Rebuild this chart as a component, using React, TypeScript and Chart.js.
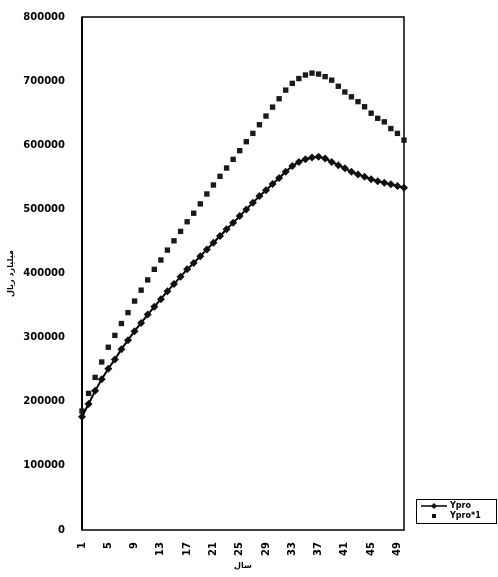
import React, { useEffect, useRef } from "react";
import { Chart, registerables } from "chart.js";

Chart.register(...registerables);

const years: string[] = Array.from({ length: 50 }, (_, i) => String(i + 1));

const ypro: number[] = [
  176700, 196500, 217000, 235000, 251500, 266000, 282000, 296000, 310000, 323000,
  336000, 348000, 360000, 372500, 383500, 395000, 406500, 416500, 427000, 437600,
  448000, 458500, 469000, 479000, 489500, 500000, 510300, 520700, 530000, 539500,
  549000, 558600, 567500, 574000, 578300, 581000, 582000, 579500, 574000, 569000,
  564000, 558600, 554500, 551000, 547000, 544000, 541500, 539000, 536300, 533600,
];

const ypro1: number[] = [
  185500, 213000, 238000, 262000, 285000, 303500, 322000, 339000, 357000, 374000,
  390000, 406500, 421000, 436500, 451000, 465700, 480700, 494000, 508600, 524000,
  538000, 551500, 564500, 578000, 591500, 605500, 618500, 632000, 645500, 659500,
  672500, 686000, 696500, 704000, 709500, 712500, 711000, 707000, 701500, 692000,
  683000, 675500, 668000, 660000, 650000, 642000, 636500, 626000, 618500, 608000,
];

const yTicks: number[] = [0, 100000, 200000, 300000, 400000, 500000, 600000, 700000, 800000];

const seriesNames: string[] = ["Ypro", "Ypro*1"];
const yTitle = "میلیارد ریال";
const xTitle = "سال";

const FONT = "'DejaVu Sans', 'Liberation Sans', sans-serif";

const framePlugin = {
  id: "frame",
  beforeDatasetsDraw(chart: any) {
    const { ctx, chartArea } = chart;
    ctx.save();
    ctx.strokeStyle = "#000";
    ctx.lineWidth = 1.5;
    ctx.strokeRect(chartArea.left, chartArea.top, chartArea.right - chartArea.left, chartArea.bottom - chartArea.top);
    ctx.lineWidth = 2;
    ctx.beginPath();
    ctx.moveTo(chartArea.left, chartArea.top);
    ctx.lineTo(chartArea.left, chartArea.bottom);
    ctx.stroke();
    ctx.restore();
  },
};

const legendPlugin = {
  id: "boxLegend",
  afterDraw(chart: any) {
    const { ctx } = chart;
    const x0 = 416, y0 = 499, w = 80, h = 24;
    ctx.save();
    ctx.strokeStyle = "#000";
    ctx.lineWidth = 1;
    ctx.strokeRect(x0 + 0.5, y0 + 0.5, w, h);
    const ly1 = y0 + 7;
    ctx.beginPath();
    ctx.moveTo(x0 + 5, ly1);
    ctx.lineTo(x0 + 31, ly1);
    ctx.lineWidth = 1.5;
    ctx.stroke();
    ctx.fillStyle = "#111";
    ctx.beginPath();
    ctx.moveTo(x0 + 18, ly1 - 3);
    ctx.lineTo(x0 + 21, ly1);
    ctx.lineTo(x0 + 18, ly1 + 3);
    ctx.lineTo(x0 + 15, ly1);
    ctx.closePath();
    ctx.fill();
    const ly2 = y0 + 17;
    ctx.fillRect(x0 + 16, ly2 - 2, 4, 4);
    ctx.fillStyle = "#000";
    ctx.font = "bold 8px " + FONT;
    ctx.textBaseline = "middle";
    ctx.textAlign = "left";
    ctx.fillText(seriesNames[0], x0 + 34, ly1);
    ctx.fillText(seriesNames[1], x0 + 34, ly2);
    ctx.restore();
  },
};

export default function App() {
  const ref = useRef<HTMLCanvasElement | null>(null);

  useEffect(() => {
    if (!ref.current) return;
    const chart = new Chart(ref.current, {
      type: "line",
      data: {
        labels: years,
        datasets: [
          {
            label: seriesNames[0],
            data: ypro,
            borderColor: "#000",
            borderWidth: 2,
            backgroundColor: "#111",
            pointStyle: "rectRot",
            pointRadius: 4,
            pointBackgroundColor: "#111",
            pointBorderColor: "#111",
            pointBorderWidth: 0,
            showLine: true,
            tension: 0,
            clip: false as any,
          },
          {
            label: seriesNames[1],
            data: ypro1,
            borderColor: "#1a1a1a",
            backgroundColor: "#1a1a1a",
            pointStyle: "rect",
            pointRadius: 3.8,
            pointBackgroundColor: "#1a1a1a",
            pointBorderColor: "#1a1a1a",
            pointBorderWidth: 0,
            showLine: false,
            clip: false as any,
          },
        ],
      },
      options: {
        animation: false,
        responsive: false,
        maintainAspectRatio: false,
        layout: { padding: { left: 0, right: 94, top: 17, bottom: 0 } },
        plugins: {
          legend: { display: false },
          tooltip: { enabled: false },
        },
        scales: {
          x: {
            type: "category",
            offset: false,
            grid: { display: false },
            border: { display: false },
            afterFit: (s: any) => { s.height = 47; },
            ticks: {
              autoSkip: false,
              minRotation: 90,
              maxRotation: 90,
              padding: 4,
              color: "#000",
              font: { family: FONT, size: 10, weight: "bold" },
              callback: (_v: any, i: number) => (i % 4 === 0 ? years[i] : ""),
            },
            title: {
              display: true,
              text: xTitle,
              color: "#000",
              font: { family: FONT, size: 8, weight: "bold" },
              padding: { top: 0, bottom: 6 },
            },
          },
          y: {
            min: 0,
            max: 800000,
            grid: { display: false },
            border: { display: false },
            afterFit: (s: any) => { s.width = 82; },
            afterBuildTicks: (s: any) => { s.ticks = yTicks.map((v) => ({ value: v })); },
            ticks: {
              padding: 9,
              color: "#000",
              font: { family: FONT, size: 10, weight: "bold" },
              callback: (v: any) => String(v),
            },
            title: {
              display: true,
              text: yTitle,
              color: "#000",
              font: { family: FONT, size: 8, weight: "bold" },
              padding: { top: 6, bottom: 0 },
            },
          },
        },
      },
      plugins: [framePlugin, legendPlugin],
    });
    return () => chart.destroy();
  }, []);

  return (
    <div style={{ position: "absolute", left: 0, top: 0, width: 498, height: 577, background: "#fff" }}>
      <canvas ref={ref} width={498} height={577} style={{ display: "block" }} />
    </div>
  );
}
